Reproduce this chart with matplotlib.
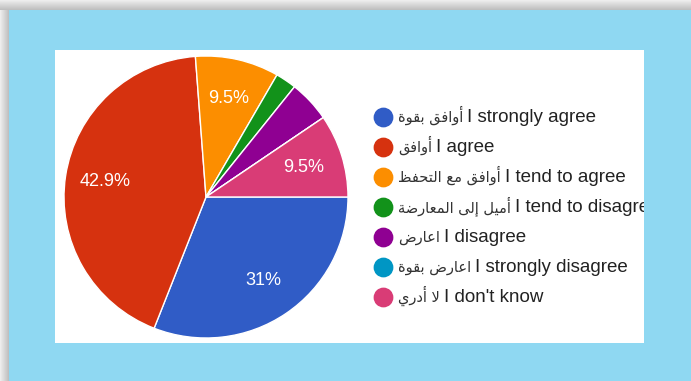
import numpy as np
import matplotlib
matplotlib.use('Agg')
import matplotlib.pyplot as plt
from matplotlib.patches import Rectangle
from matplotlib.transforms import Bbox, TransformedBbox

# survey answers (count of respondents per option)
answers_en = ['I strongly agree', 'I agree', 'I tend to agree', 'I tend to disagree',
              'I disagree', 'I strongly disagree', "I don't know"]
answers_ar = ['أوافق بقوة', 'أوافق', 'أوافق مع التحفظ', 'أميل إلى المعارضة',
              'اعارض', 'اعارض بقوة', 'لا أدري']
responses = [13, 18, 4, 1, 2, 0, 4]
slice_colors = ['#305cc6', '#d6320f', '#fc8e00', '#12921a',
                '#8f0092', '#0096c4', '#d93c76']

FONTS = ['Liberation Sans', 'DejaVu Sans']

# matplotlib doesn't shape arabic, so map letters to presentation forms
# (isolated, final, initial, medial) and reverse for right-to-left display
FORMS = {
    'ا': ('\ufe8d', '\ufe8e'), 'أ': ('\ufe83', '\ufe84'), 'إ': ('\ufe87', '\ufe88'),
    'د': ('\ufea9', '\ufeaa'), 'ر': ('\ufead', '\ufeae'), 'و': ('\ufeed', '\ufeee'),
    'ة': ('\ufe93', '\ufe94'), 'ى': ('\ufeef', '\ufef0'),
    'ب': ('\ufe8f', '\ufe90', '\ufe91', '\ufe92'),
    'ت': ('\ufe95', '\ufe96', '\ufe97', '\ufe98'),
    'ح': ('\ufea1', '\ufea2', '\ufea3', '\ufea4'),
    'ض': ('\ufebd', '\ufebe', '\ufebf', '\ufec0'),
    'ظ': ('\ufec5', '\ufec6', '\ufec7', '\ufec8'),
    'ع': ('\ufec9', '\ufeca', '\ufecb', '\ufecc'),
    'ف': ('\ufed1', '\ufed2', '\ufed3', '\ufed4'),
    'ق': ('\ufed5', '\ufed6', '\ufed7', '\ufed8'),
    'ل': ('\ufedd', '\ufede', '\ufedf', '\ufee0'),
    'م': ('\ufee1', '\ufee2', '\ufee3', '\ufee4'),
    'ي': ('\ufef1', '\ufef2', '\ufef3', '\ufef4'),
}
LAM_ALEF = {'ا': ('\ufefb', '\ufefc'), 'أ': ('\ufef7', '\ufef8'),
            'إ': ('\ufef9', '\ufefa')}


def shape_arabic(s):
    out = []
    prev_joins = False
    i = 0
    while i < len(s):
        ch = s[i]
        if ch not in FORMS:
            out.append(ch)
            prev_joins = False
            i += 1
            continue
        nxt = s[i + 1] if i + 1 < len(s) else ''
        if ch == 'ل' and nxt in LAM_ALEF:
            out.append(LAM_ALEF[nxt][1 if prev_joins else 0])
            prev_joins = False
            i += 2
            continue
        forms = FORMS[ch]
        joins_next = len(forms) == 4 and nxt in FORMS
        if prev_joins and joins_next:
            out.append(forms[3])
        elif prev_joins:
            out.append(forms[1])
        elif joins_next:
            out.append(forms[2])
        else:
            out.append(forms[0])
        prev_joins = joins_next
        i += 1
    return ''.join(reversed(out))


def pct_label(pct):
    if pct < 5:
        return ''
    return f'{pct:.1f}'.rstrip('0').rstrip('.') + '%'


W, H = 691, 381
fig = plt.figure(figsize=(W / 100, H / 100), dpi=100)

# background layer in pixel coordinates (y down)
bg = fig.add_axes([0, 0, 1, 1])
bg.set_xlim(0, W)
bg.set_ylim(H, 0)
bg.axis('off')

sky = np.array([143, 216, 242]) / 255
img = np.ones((H, W, 3)) * sky
for y in range(10):
    img[y, :, :] = 0.93 - 0.2 * (y / 10)
for x in range(9):
    img[10:, x, :] = 0.93 - 0.2 * (x / 9)
bg.imshow(img, extent=(0, W, H, 0), interpolation='bilinear', aspect='auto')

panel = Rectangle((55, 50), 589, 293, facecolor='white', edgecolor='none')
bg.add_patch(panel)
panel_clip = TransformedBbox(Bbox([[55, 50], [644, 343]]), bg.transData)

# legend: dot, arabic label, english label; cut off at the panel edge
renderer = fig.canvas.get_renderer()
for i, (ar, en) in enumerate(zip(answers_ar, answers_en)):
    y = 117 + 30 * i
    bg.scatter([383], [y], s=175, color=slice_colors[i], zorder=3)
    t_ar = bg.text(398, y + 5, shape_arabic(ar), va='baseline', ha='left',
                   fontsize=10.5, color='#333333', family='DejaVu Sans')
    x_end = bg.transData.inverted().transform(
        t_ar.get_window_extent(renderer).get_points())[1, 0]
    t_en = bg.text(x_end + 4, y + 5, en, va='baseline', ha='left',
                   fontsize=13.5, color='#222222', family=FONTS)
    t_en.set_clip_box(panel_clip)
    t_en.set_clip_on(True)

# pie
ax = fig.add_axes([(206 - 142) / W, (H - 197 - 141) / H, 284 / W, 282 / H])
wedges, texts, autotexts = ax.pie(
    responses, colors=slice_colors, startangle=0, counterclock=False,
    autopct=pct_label, pctdistance=0.72,
    wedgeprops=dict(edgecolor='white', linewidth=1),
    textprops=dict(color='white', fontsize=13, family=FONTS))
ax.set_xlim(-1.0, 1.0)
ax.set_ylim(-1.0, 1.0)
ax.set_aspect('auto')
ax.axis('off')

fig.savefig('out.png', dpi=100)
